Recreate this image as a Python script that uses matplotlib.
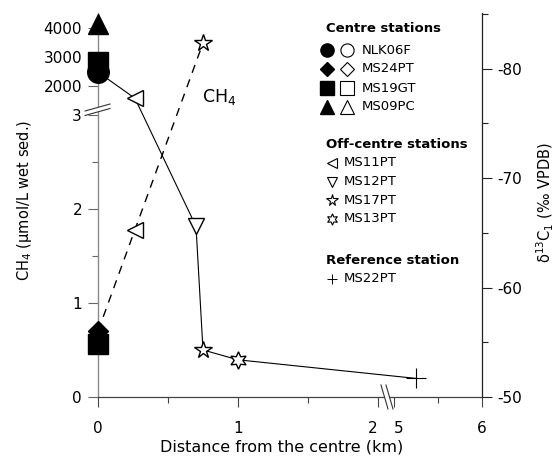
import numpy as np
import matplotlib.pyplot as plt
from matplotlib.lines import Line2D
from matplotlib.patches import Polygon

W, H = 558, 458

# centre stations at distance 0 (CH4, umol/L wet sed.)
centre_station = ["MS19GT", "MS24PT", "MS19GT", "NLK06F", "MS09PC"]
centre_ch4 = [0.56, 0.70, 2830, 2480, 4120]
centre_marker = {"NLK06F": "o", "MS24PT": "D", "MS19GT": "s", "MS09PC": "^"}
centre_size = {"NLK06F": 15.5, "MS24PT": 10.5, "MS19GT": 14.5, "MS09PC": 14.5}

# off-centre / reference stations, CH4 (dashed)
ch4_station = ["MS24PT", "MS11PT", "MS17PT"]
ch4_dist = [0.0, 0.264, 0.75]
ch4_val = [0.70, 1.78, 3480]

# d13C of methane (solid)
d13c_station = ["NLK06F", "MS11PT", "MS12PT", "MS17PT", "MS13PT", "MS22PT"]
d13c_dist = [0.0, 0.264, 0.70, 0.75, 1.0, 5.25]
d13c_val = [-79.7, -77.3, -65.6, -54.3, -53.4, -51.7]

off_marker = {"MS11PT": "<", "MS12PT": "v", "MS17PT": "*", "MS13PT": (6, 1, 0), "MS22PT": "+"}
off_size = {"MS11PT": 12, "MS12PT": 12, "MS17PT": 13, "MS13PT": 12.5, "MS22PT": 14}

centre_names = ["NLK06F", "MS24PT", "MS19GT", "MS09PC"]
off_names = ["MS11PT", "MS12PT", "MS17PT", "MS13PT"]
ref_names = ["MS22PT"]


# broken axes: 0-2 km then 5-6 km, and 0-3 then 2000-4500
def x_fwd(x):
    return np.interp(x, [-100, 2, 5, 106], [-100, 2, 2.114, 2.114 + 101 * 0.629])


def x_inv(u):
    return np.interp(u, [-100, 2, 2.114, 2.114 + 101 * 0.629], [-100, 2, 5, 106])


def y_fwd(y):
    return np.interp(y, [-100, 3, 2000, 1e5], [-100, 3, 3.309, 3.309 + 98000 * 0.0003085])


def y_inv(v):
    return np.interp(v, [-100, 3, 3.309, 3.309 + 98000 * 0.0003085], [-100, 3, 2000, 1e5])


def px(x, y):
    return x / W, 1 - y / H


fig = plt.figure(figsize=(W / 100, H / 100), dpi=100)
ax = fig.add_axes([98 / W, 1 - 397 / H, 384 / W, 384 / H])
ax.set_xscale('function', functions=(x_fwd, x_inv))
ax.set_yscale('function', functions=(y_fwd, y_inv))
ax2 = ax.twinx()

# CH4 dashed line
ln, = ax.plot(ch4_dist, ch4_val, color='black', lw=1.0, zorder=2)
ln.set_dashes((6, 5))
for s, d, v in zip(ch4_station[1:], ch4_dist[1:], ch4_val[1:]):
    ax.plot([d], [v], marker=off_marker[s], ms=off_size[s], mfc='white', mec='black',
            mew=1.0, ls='none', zorder=3)

# centre stations, filled
for s, v in zip(centre_station, centre_ch4):
    ax.plot([0], [v], marker=centre_marker[s], ms=centre_size[s], color='black',
            ls='none', zorder=4, clip_on=False)

# d13C solid line
ax2.plot(d13c_dist, d13c_val, color='black', lw=0.8, zorder=2)
for s, d, v in zip(d13c_station[1:], d13c_dist[1:], d13c_val[1:]):
    ax2.plot([d], [v], marker=off_marker[s], ms=off_size[s], mfc='white', mec='black',
             mew=1.0 if s != "MS22PT" else 0.8, ls='none', zorder=3)

ax.set_xlim(0, 6)
ax.set_ylim(0, 4515)
ax2.set_ylim(-50, -85.1)

ax.set_xticks([0, 1, 2, 5, 6], ['0', '1', '2', '5', '6'])
ax.set_xticks([0.5, 1.5, 5.5], minor=True)
ax.set_yticks([0, 1, 2, 3, 2000, 3000, 4000], ['0', '1', '2', '3', '2000', '3000', '4000'])
ax.set_yticks([0.5, 1.5, 2.5], minor=True)
ax.set_yticklabels([], minor=True)
ax.set_xticklabels([], minor=True)
ax2.set_yticks([-50, -60, -70, -80], ['-50', '-60', '-70', '-80'])
ax2.set_yticks([-55, -65, -75, -85], minor=True)
ax2.set_yticklabels([], minor=True)

xt = ax.xaxis.get_major_ticks()
xt[2].label1.set_horizontalalignment('right')
xt[3].label1.set_horizontalalignment('left')

for a in (ax, ax2):
    a.spines['top'].set_visible(False)
ax.spines['right'].set_visible(False)
ax2.spines['left'].set_visible(False)
ax2.spines['bottom'].set_visible(False)
ax.spines['left'].set_color('#8a8a8a')
ax.spines['left'].set_linewidth(1.0)
ax.spines['bottom'].set_color('#444444')
ax.spines['bottom'].set_linewidth(0.9)
ax2.spines['right'].set_color('#222222')
ax2.spines['right'].set_linewidth(0.9)

ax.tick_params(axis='x', which='major', direction='out', length=7, width=0.8,
               pad=10, labelsize=11, colors='#444444', labelcolor='black')
ax.tick_params(axis='x', which='minor', direction='out', length=4, width=0.8, colors='#444444')
ax.tick_params(axis='y', which='major', direction='out', length=7.5, width=0.8,
               pad=4, labelsize=11, colors='#666666', labelcolor='black')
ax.tick_params(axis='y', which='minor', direction='out', length=4, width=0.8, colors='#666666')
ax2.tick_params(axis='y', which='major', direction='out', length=7, width=0.8,
                pad=4, labelsize=11, colors='#222222', labelcolor='black')
ax2.tick_params(axis='y', which='minor', direction='out', length=4, width=0.8, colors='#222222')

# axis labels
fig.text(*px(25, 200), 'CH$_4$ (µmol/L wet sed.)', rotation=90, ha='center', va='center',
         fontsize=10.5)
fig.text(*px(545, 202), 'δ$^{13}$C$_1$ (‰ VPDB)', rotation=90, ha='center', va='center',
         fontsize=10.5)
fig.text(*px(282, 447), 'Distance from the centre (km)', ha='center', va='center', fontsize=11.5)
fig.text(*px(202, 102), 'CH$_4$', ha='left', va='baseline', fontsize=12.5)

# axis break marks
for (x0, y0, x1, y1, dx, dy) in [(85, 111, 110, 104, 0, 4.5), (381, 385, 388, 409, 5, 0)]:
    gap = Polygon([px(x0, y0), px(x1, y1), px(x1 + dx, y1 + dy), px(x0 + dx, y0 + dy)],
                  closed=True, transform=fig.transFigure, facecolor='white',
                  edgecolor='none', zorder=5)
    fig.add_artist(gap)
    for k in (0, 1):
        fig.add_artist(Line2D([px(x0 + k * dx, 0)[0], px(x1 + k * dx, 0)[0]],
                              [px(0, y0 + k * dy)[1], px(0, y1 + k * dy)[1]],
                              transform=fig.transFigure, color='#333333', lw=0.8, zorder=6))

# legend
fig.text(*px(326, 29), 'Centre stations', fontweight='bold', fontsize=9.5, va='center')
for i, name in enumerate(centre_names):
    y = 50 + i * 19
    m = centre_marker[name]
    sz = 6.8 if m == 'D' else 9.5
    fig.add_artist(Line2D([px(327, y)[0]], [px(327, y)[1]], transform=fig.transFigure,
                          marker=m, ms=sz, color='black', ls='none'))
    fig.add_artist(Line2D([px(347, y)[0]], [px(347, y)[1]], transform=fig.transFigure,
                          marker=m, ms=sz, mfc='white', mec='black', mew=0.8, ls='none'))
    fig.text(*px(362, y), name, fontsize=9.5, va='center')

fig.text(*px(326, 144), 'Off-centre stations', fontweight='bold', fontsize=9.5, va='center')
for i, name in enumerate(off_names):
    y = 163 + i * 18.5
    sz = off_size[name] * 0.65
    fig.add_artist(Line2D([px(332, y)[0]], [px(332, y)[1]], transform=fig.transFigure,
                          marker=off_marker[name], ms=sz, mfc='white', mec='black',
                          mew=0.8, ls='none'))
    fig.text(*px(344, y), name, fontsize=9.5, va='center')

fig.text(*px(326, 260), 'Reference station', fontweight='bold', fontsize=9.5, va='center')
for name in ref_names:
    fig.add_artist(Line2D([px(332, 279)[0]], [px(332, 279)[1]], transform=fig.transFigure,
                          marker=off_marker[name], ms=7.5, color='black', mew=0.7, ls='none'))
    fig.text(*px(344, 279), name, fontsize=9.5, va='center')

fig.savefig('out.png', dpi=100)
